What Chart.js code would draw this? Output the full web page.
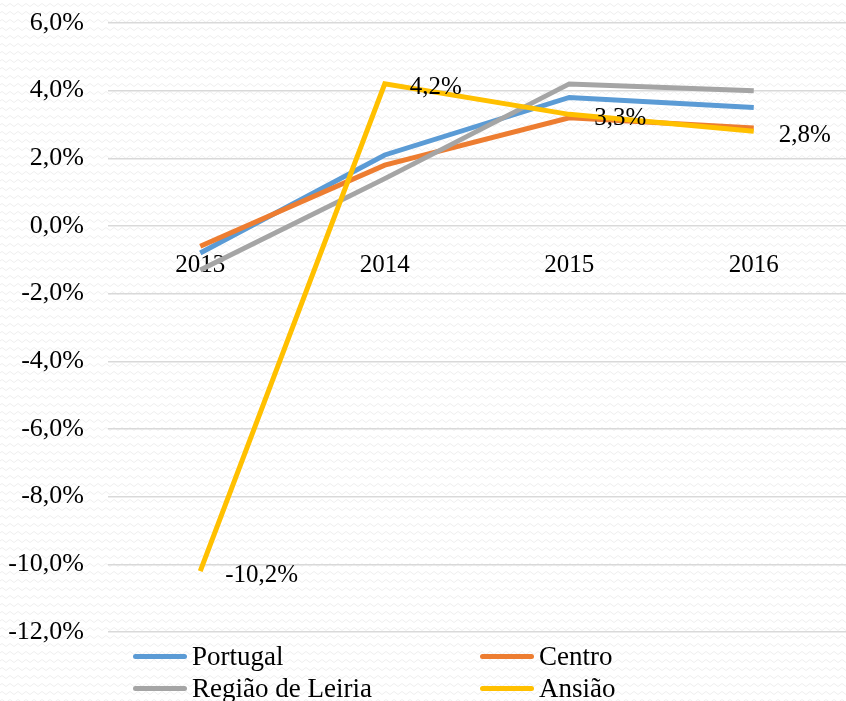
<!DOCTYPE html>
<html>
<head>
<meta charset="utf-8">
<script src="https://cdn.jsdelivr.net/npm/chart.js@4/dist/chart.umd.min.js"></script>
<style>
  html, body { margin: 0; padding: 0; }
  body {
    width: 846px; height: 701px; overflow: hidden; position: relative;
    background-color: #ffffff;
    background-image: url("data:image/svg+xml,%3Csvg xmlns='http://www.w3.org/2000/svg' width='8' height='8'%3E%3Cpath d='M0 5 Q2 2 4 5 T8 5' fill='none' stroke='%23eeeeee' stroke-width='1'/%3E%3C/svg%3E");
  }
  #wrap { position: absolute; left: 0; top: 0; width: 846px; height: 701px; }
  #legend {
    position: absolute; left: 133px; top: 640px; width: 700px;
    font-family: "Liberation Serif", serif; font-size: 27px; color: #000;
    display: grid; grid-template-columns: 347px 300px; row-gap: 0px;
  }
  .item { display: flex; align-items: center; height: 32px; }
  .swatch { width: 54px; height: 5px; border-radius: 3px; margin-right: 5px; }
</style>
</head>
<body>
<div id="wrap"><canvas id="grafico"></canvas></div>
<div id="legend"></div>
<script>
const anos = ['2013', '2014', '2015', '2016'];
const portugal = [-0.8, 2.1, 3.8, 3.5];
const centro = [-0.6, 1.8, 3.2, 2.9];
const leiria = [-1.3, 1.4, 4.2, 4.0];
const ansiao = [-10.2, 4.2, 3.3, 2.8];
const nomes = ['Portugal', 'Centro', 'Região de Leiria', 'Ansião'];
const cores = ['#5B9BD5', '#ED7D31', '#A5A5A5', '#FFC000'];

const fmt = v => v.toFixed(1).replace('.', ',') + '%';

// etiquetas de Ansião (sem plugin externo)
const etiquetas = {
  id: 'etiquetas',
  afterDatasetsDraw(chart) {
    const meta = chart.getDatasetMeta(3);
    const ctx = chart.ctx;
    ctx.save();
    ctx.font = '25px "Liberation Serif", serif';
    ctx.fillStyle = '#000';
    ctx.textAlign = 'left';
    ctx.textBaseline = 'middle';
    meta.data.forEach((pt, i) => {
      ctx.fillText(fmt(ansiao[i]), pt.x + 25, pt.y + 4);
    });
    ctx.restore();
  }
};

const series = [portugal, centro, leiria, ansiao];
const datasets = series.map((d, i) => ({
  label: nomes[i],
  data: d,
  borderColor: cores[i],
  backgroundColor: cores[i],
  borderWidth: 5,
  pointRadius: 0,
  tension: 0,
  order: 3 - i
}));

const ctx = document.getElementById('grafico').getContext('2d');
new Chart(ctx, {
  type: 'line',
  data: { labels: anos, datasets: datasets },
  options: {
    responsive: true, maintainAspectRatio: false, animation: false,
    layout: { padding: { top: 23, bottom: 69, left: 0, right: -5 } },
    plugins: { legend: { display: false }, tooltip: { enabled: false } },
    scales: {
      x: {
        position: { y: 0 },
        offset: true,
        afterFit: s => { s.height = 0; },
        grid: { display: false, drawTicks: false },
        border: { display: false },
        ticks: { color: '#000', padding: 24, font: { family: '"Liberation Serif", serif', size: 25 } }
      },
      y: {
        min: -12, max: 6,
        afterFit: s => { s.width = 108; s.paddingTop = 0; s.paddingBottom = 0; },
        grid: { color: '#d9d9d9', lineWidth: 1.5, drawTicks: false },
        border: { display: false },
        ticks: { stepSize: 2, color: '#000', padding: 24, callback: v => fmt(v), font: { family: '"Liberation Serif", serif', size: 26 } }
      }
    }
  },
  plugins: [etiquetas]
});

// legenda em HTML, duas colunas
const leg = document.getElementById('legend');
nomes.forEach((n, i) => {
  leg.innerHTML += `<div class="item"><span class="swatch" style="background:${cores[i]}"></span>${n}</div>`;
});
</script>
</body>
</html>
